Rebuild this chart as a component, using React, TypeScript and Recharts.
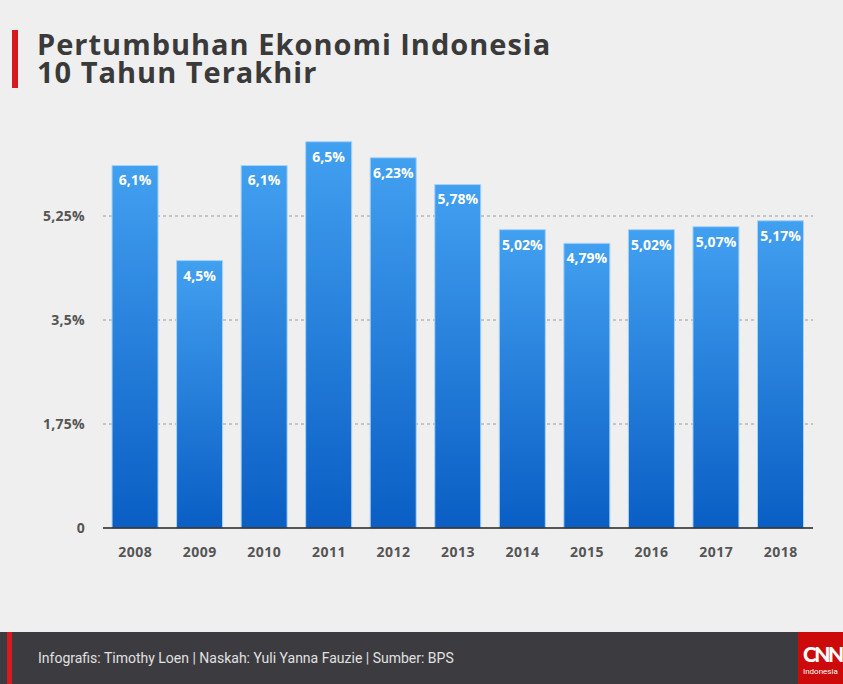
import React from 'react';
import { BarChart, Bar, XAxis, YAxis, CartesianGrid, LabelList } from 'recharts';

const years = ['2008', '2009', '2010', '2011', '2012', '2013', '2014', '2015', '2016', '2017', '2018'];
const growth = [6.1, 4.5, 6.1, 6.5, 6.23, 5.78, 5.02, 4.79, 5.02, 5.07, 5.17];
const yTicks = [0, 1.75, 3.5, 5.25];
const yTickLabels = ['0', '1,75%', '3,5%', '5,25%'];
const gridValues = [1.75, 3.5, 5.25];

const data = years.map((y, i) => ({ year: y, value: growth[i] }));

const fmtTick = (v: number) => {
  const i = yTicks.indexOf(v);
  return i >= 0 ? yTickLabels[i] : String(v);
};
const fmtLabel = (v: any) => String(v).replace('.', ',') + '%';

const FONT = '"Open Sans", sans-serif';

export default function App() {
  const titleStyle: React.CSSProperties = { position: 'absolute', left: 37, fontSize: 29, fontWeight: 700, color: '#3a3a3a', lineHeight: '26px', height: 26, letterSpacing: 1, whiteSpace: 'nowrap' };
  return (
    <div style={{ position: 'absolute', left: 0, top: 0, width: 843, height: 684, background: '#efefef', overflow: 'hidden', fontFamily: FONT }}>
      <div style={{ position: 'absolute', left: 12, top: 30, width: 6, height: 58, background: '#d71920' }} />
      <div style={{ ...titleStyle, top: 31 }}>Pertumbuhan Ekonomi Indonesia</div>
      <div style={{ ...titleStyle, top: 59 }}>10 Tahun Terakhir</div>
      <div style={{ position: 'absolute', left: 0, top: 0 }}>
        <BarChart width={843} height={684} data={data} margin={{ top: 112, right: 30, left: 0, bottom: 0 }} barCategoryGap="14%">
          <defs>
            <linearGradient id="barGrad" x1="0" y1="0" x2="0" y2="1">
              <stop offset="0%" stopColor="#42a0f0" />
              <stop offset="100%" stopColor="#0a5ec4" />
            </linearGradient>
          </defs>
          <CartesianGrid vertical={false} horizontalValues={gridValues} stroke="#9a9a9a" strokeDasharray="3 3" />
          <XAxis
            dataKey="year"
            height={156}
            axisLine={{ stroke: '#222', strokeWidth: 1.5 }}
            tickLine={false}
            tickMargin={13}
            tick={{ fill: '#555', fontSize: 14, fontWeight: 700, fontFamily: FONT, letterSpacing: 0.5 }}
          />
          <YAxis
            width={103}
            domain={[0, 7]}
            ticks={yTicks}
            tickFormatter={fmtTick}
            axisLine={false}
            tickLine={false}
            tickMargin={12}
            tick={{ fill: '#555', fontSize: 14, fontWeight: 700, fontFamily: FONT, letterSpacing: 0.3 }}
          />
          <Bar dataKey="value" fill="url(#barGrad)" stroke="#a6d3f7" strokeWidth={1} isAnimationActive={false}>
            <LabelList dataKey="value" position="insideTop" offset={10} formatter={fmtLabel} fill="#ffffff" fontSize={14} fontWeight={700} fontFamily={FONT} />
          </Bar>
        </BarChart>
      </div>
      <div style={{ position: 'absolute', left: 0, top: 632, width: 843, height: 52, background: '#3c3c40' }} />
      <div style={{ position: 'absolute', left: 7, top: 632, width: 5, height: 52, background: '#d71920' }} />
      <div style={{ position: 'absolute', left: 38, top: 650, fontSize: 14, color: '#e0e0e0', fontFamily: 'Roboto, sans-serif', letterSpacing: 0 }}>
        Infografis: Timothy Loen | Naskah: Yuli Yanna Fauzie | Sumber: BPS
      </div>
      <div style={{ position: 'absolute', left: 798, top: 632, width: 45, height: 52, background: '#cc0a0a', color: '#fff', overflow: 'hidden' }}>
        <div style={{ position: 'absolute', left: 5, top: 9, fontSize: 21, fontWeight: 900, fontFamily: 'Lato, sans-serif', letterSpacing: -2.5 }}>CNN</div>
        <div style={{ position: 'absolute', left: 5, top: 35, fontSize: 8, fontFamily: 'Roboto, sans-serif' }}>Indonesia</div>
      </div>
    </div>
  );
}
